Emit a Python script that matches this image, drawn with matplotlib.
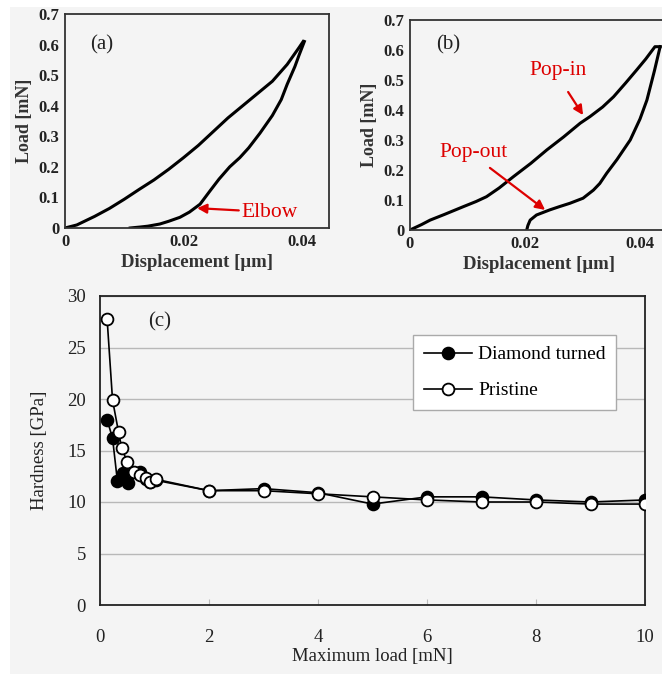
import numpy as np
import matplotlib
matplotlib.use("Agg")
import matplotlib.pyplot as plt
from matplotlib.patches import Rectangle

plt.rcParams['font.family'] = ['Liberation Serif', 'DejaVu Serif']

# panel (a): load-displacement curve, displacement in um, load in mN
a_load_x = [0.0, 0.002, 0.005, 0.0075, 0.010, 0.0125, 0.015, 0.0175, 0.020, 0.0225, 0.025,
            0.0275, 0.030, 0.0325, 0.035, 0.0375, 0.0395, 0.0402]
a_load_y = [0.0, 0.010, 0.038, 0.064, 0.094, 0.126, 0.157, 0.192, 0.230, 0.270, 0.315,
            0.360, 0.400, 0.440, 0.480, 0.535, 0.590, 0.610]
a_unload_x = [0.0404, 0.0395, 0.0388, 0.0375, 0.0365, 0.0350, 0.0329, 0.0310, 0.0295, 0.0278,
              0.0260, 0.0245, 0.0228, 0.0210, 0.0194, 0.0175, 0.0160, 0.0140, 0.0126, 0.0110]
a_unload_y = [0.610, 0.565, 0.528, 0.470, 0.420, 0.368, 0.310, 0.262, 0.230, 0.200,
              0.160, 0.122, 0.078, 0.052, 0.035, 0.022, 0.013, 0.006, 0.003, 0.0]

# panel (b)
b_load_x = [0.0, 0.002, 0.0035, 0.006, 0.0093, 0.0115, 0.0133, 0.0155, 0.018, 0.021, 0.0238,
            0.0267, 0.0296, 0.0313, 0.0335, 0.0354, 0.0375, 0.0394, 0.041, 0.0426, 0.0435]
b_load_y = [0.0, 0.018, 0.033, 0.052, 0.078, 0.095, 0.111, 0.140, 0.178, 0.222, 0.267,
            0.310, 0.356, 0.378, 0.410, 0.444, 0.490, 0.533, 0.570, 0.611, 0.611]
b_unload_x = [0.0435, 0.0425, 0.0412, 0.0400, 0.0383, 0.0360, 0.0342, 0.0330, 0.0319, 0.0301,
              0.0278, 0.0260, 0.0243, 0.0220, 0.0209, 0.0205, 0.0203]
b_unload_y = [0.611, 0.530, 0.433, 0.370, 0.300, 0.235, 0.189, 0.155, 0.133, 0.106,
              0.089, 0.078, 0.067, 0.050, 0.033, 0.015, 0.0]

disp_ticks = [0, 0.02, 0.04]
disp_labels = ["0", "0.02", "0.04"]
load_ticks = [0, 0.1, 0.2, 0.3, 0.4, 0.5, 0.6, 0.7]
load_labels = ["0", "0.1", "0.2", "0.3", "0.4", "0.5", "0.6", "0.7"]

# panel (c): hardness vs maximum load
diamond_x = [0.13, 0.23, 0.32, 0.42, 0.52, 0.73, 0.84, 0.92, 1.03, 2, 3, 4, 5, 6, 7, 8, 9, 10]
diamond_y = [18.0, 16.2, 12.0, 12.8, 11.8, 12.9, 12.2, 11.9, 12.1, 11.1, 11.3, 10.9, 9.8, 10.5, 10.5, 10.2, 10.0, 10.2]
pristine_x = [0.13, 0.23, 0.34, 0.40, 0.50, 0.62, 0.74, 0.84, 0.92, 1.03, 2, 3, 4, 5, 6, 7, 8, 9, 10]
pristine_y = [27.8, 19.9, 16.8, 15.2, 13.9, 12.9, 12.6, 12.3, 11.9, 12.2, 11.1, 11.1, 10.8, 10.5, 10.2, 10.0, 10.0, 9.8, 9.8]
hard_ticks = [0, 5, 10, 15, 20, 25, 30]
maxload_ticks = [0, 2, 4, 6, 8, 10]

fig = plt.figure(figsize=(6.62, 6.74), dpi=100, facecolor="white")
# light grey scan background
fig.patches.append(Rectangle((10 / 662, 0), 1, 1 - 7 / 674, transform=fig.transFigure,
                             facecolor="#f4f4f4", edgecolor="none", zorder=-10))


def curve_panel(rect, xmax, lx, ly, ux, uy, tag, tag_xy):
    ax = fig.add_axes(rect)
    ax.set_facecolor("none")
    ax.plot(lx, ly, color="black", lw=2.2, solid_joinstyle="round")
    ax.plot(ux, uy, color="black", lw=2.2, solid_joinstyle="round")
    ax.set_xlim(0, xmax)
    ax.set_ylim(0, 0.7)
    ax.set_xticks(disp_ticks)
    ax.set_xticklabels(disp_labels)
    ax.set_yticks(load_ticks)
    ax.set_yticklabels(load_labels)
    ax.tick_params(length=0, pad=4, labelsize=12, colors="#222222")
    for lab in ax.get_xticklabels() + ax.get_yticklabels():
        lab.set_fontweight("bold")
    for s in ax.spines.values():
        s.set_linewidth(1.3)
        s.set_color("#333333")
    ax.set_xlabel("Displacement [\u03bcm]", fontsize=13.5, fontweight="bold", color="#333333", labelpad=3)
    ax.set_ylabel("Load [mN]", fontsize=13, fontweight="bold", color="#333333", labelpad=4)
    ax.text(tag_xy[0], tag_xy[1], tag, fontsize=15, ha="center", va="center", color="#222222")
    return ax


ax_a = curve_panel([65 / 662, 1 - 228 / 674, 264 / 662, 214 / 674], 0.04456,
                   a_load_x, a_load_y, a_unload_x, a_unload_y, "(a)", (0.0062, 0.60))
ax_a.annotate("Elbow", xy=(0.0223, 0.065), xytext=(0.0298, 0.052), color="#dd0000",
              fontsize=15.5, va="center", ha="left",
              arrowprops=dict(arrowstyle="-|>", color="#dd0000", lw=1.6, mutation_scale=14,
                              shrinkA=0, shrinkB=0))

ax_b = curve_panel([410 / 662, 1 - 230 / 674, 258.75 / 662, 210 / 674], 0.045,
                   b_load_x, b_load_y, b_unload_x, b_unload_y, "(b)", (0.0066, 0.617))
ax_b.text(0.0257, 0.533, "Pop-in", color="#dd0000", fontsize=15.5, ha="center", va="center")
ax_b.annotate("", xy=(0.0301, 0.383), xytext=(0.0275, 0.46),
              arrowprops=dict(arrowstyle="-|>", color="#dd0000", lw=1.6, mutation_scale=14,
                              shrinkA=0, shrinkB=0))
ax_b.text(0.0111, 0.26, "Pop-out", color="#dd0000", fontsize=15.5, ha="center", va="center")
ax_b.annotate("", xy=(0.0235, 0.067), xytext=(0.0139, 0.207),
              arrowprops=dict(arrowstyle="-|>", color="#dd0000", lw=1.6, mutation_scale=14,
                              shrinkA=0, shrinkB=0))

# panel (c)
ax_c = fig.add_axes([100 / 662, 1 - 605 / 674, 545 / 662, 309 / 674])
ax_c.set_facecolor("none")
ax_c.plot(diamond_x, diamond_y, "-o", color="black", lw=1.2, ms=8.5,
          mfc="black", mec="black", mew=1.3, label="Diamond turned", zorder=3)
ax_c.plot(pristine_x, pristine_y, "-o", color="black", lw=1.2, ms=8.5,
          mfc="white", mec="black", mew=1.3, label="Pristine", zorder=4)
ax_c.set_xlim(0, 10)
ax_c.set_ylim(0, 30)
ax_c.set_xticks(maxload_ticks)
ax_c.set_yticks(hard_ticks)
ax_c.yaxis.grid(True, color="#b8b8b8", lw=1.0)
ax_c.set_axisbelow(True)
ax_c.tick_params(axis="y", length=0, pad=10, labelsize=13.5, colors="#222222")
ax_c.tick_params(axis="x", direction="in", length=4, color="#bbbbbb", pad=17, labelsize=13.5,
                 labelcolor="#222222")
for s in ax_c.spines.values():
    s.set_linewidth(1.3)
    s.set_color("#222222")
ax_c.set_xlabel("Maximum load [mN]", fontsize=13.5, color="#222222", labelpad=2)
ax_c.set_ylabel("Hardness [GPa]", fontsize=13.5, color="#222222", labelpad=14)
ax_c.text(1.1, 27.5, "(c)", fontsize=15, ha="center", va="center", color="#222222")
leg = ax_c.legend(loc="upper left", bbox_to_anchor=(313 / 545, 1 - 39 / 309),
                  fontsize=14, frameon=True, fancybox=False, framealpha=1,
                  edgecolor="#aaaaaa", handlelength=2.5, borderpad=0.55, labelspacing=0.95,
                  handletextpad=0.3, borderaxespad=0)
leg.get_frame().set_linewidth(1.0)

fig.savefig("out.png", dpi=100, facecolor=fig.get_facecolor())
